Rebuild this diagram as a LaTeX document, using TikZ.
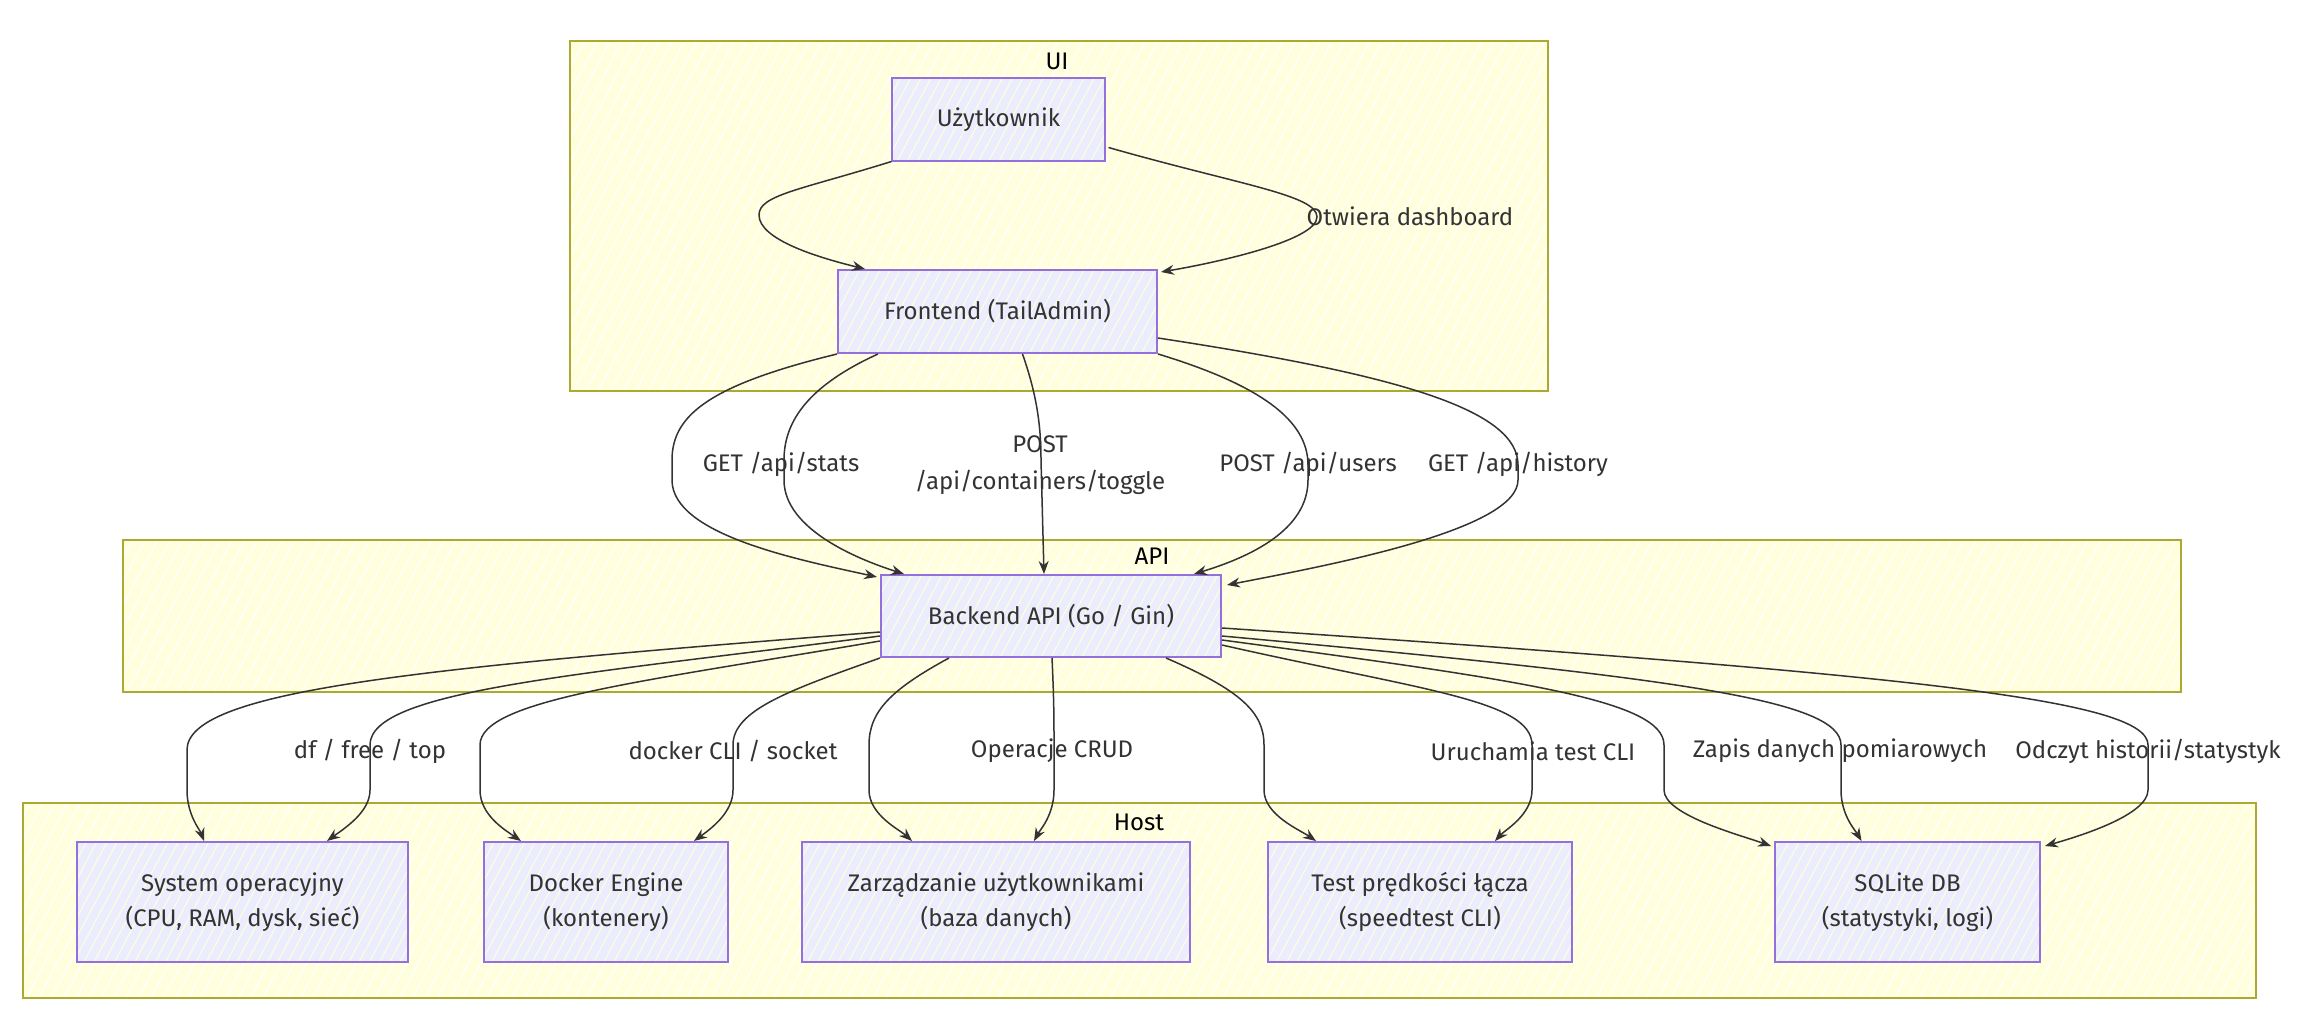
\documentclass[tikz,border=0pt]{standalone}
\usepackage{fontspec}
\setmainfont{Fira Sans}
\usetikzlibrary{arrows.meta,patterns.meta,calc}
\definecolor{clfill}{HTML}{FFFFDE}
\definecolor{clline}{HTML}{AAAA33}
\definecolor{ndfill}{HTML}{ECECFF}
\definecolor{ndline}{HTML}{9370DB}
\definecolor{txt}{HTML}{333333}
\begin{document}
\begin{tikzpicture}[x=1pt,y=-1pt,
  cluster/.style={draw=clline, line width=2pt, preaction={fill=clfill},
    pattern={Lines[angle=62,distance=11pt,line width=1.2pt]}, pattern color=white},
  cltitle/.style={text=black, font=\fontsize{24}{28}\selectfont, inner sep=0pt},
  box/.style={draw=ndline, line width=2pt, preaction={fill=ndfill},
    pattern={Lines[angle=62,distance=9pt,line width=1pt]}, pattern color=white!85!yellow,
    text=txt, font=\fontsize{24}{35}\selectfont, align=center, inner sep=0pt},
  elabel/.style={text=txt, font=\fontsize{24}{37}\selectfont, align=center, inner sep=0pt},
  edge/.style={draw=txt, line width=1.5pt, -{Stealth[length=13pt,width=10pt]}}]
\useasboundingbox (0,0) rectangle (2302,1024);
\fill[white] (0,0) rectangle (2302,1024);
% clusters
\path[cluster] (570,41) rectangle (1548,391);
\path[cluster] (123,540) rectangle (2181,692);
\path[cluster] (23,803) rectangle (2256,998);
\node[cltitle] (tui) at (1057,61) {UI};
\node[cltitle] (tapi) at (1152,556) {API};
\node[cltitle] (thost) at (1139,822) {Host};
% nodes
\node[box, minimum width=213pt, minimum height=83pt] (user) at (998.5,119.5) {Użytkownik};
\node[box, minimum width=319pt, minimum height=83pt] (fe) at (997.5,311.5) {Frontend (TailAdmin)};
\node[box, minimum width=340pt, minimum height=82pt] (be) at (1051,616) {Backend API (Go / Gin)};
\node[box, minimum width=331pt, minimum height=120pt] (sys) at (242.5,902) {System operacyjny\\(CPU, RAM, dysk, sieć)};
\node[box, minimum width=244pt, minimum height=120pt] (dock) at (606,902) {Docker Engine\\(kontenery)};
\node[box, minimum width=388pt, minimum height=120pt] (usrm) at (996,902) {Zarządzanie użytkownikami\\(baza danych)};
\node[box, minimum width=304pt, minimum height=120pt] (test) at (1420,902) {Test prędkości łącza\\(speedtest CLI)};
\node[box, minimum width=265pt, minimum height=120pt] (db) at (1907.5,902) {SQLite DB\\(statystyki, logi)};
% user -> frontend
\draw[edge] (user.south west) .. controls (800,190) and (759,195) .. (759,215) .. controls (759,240) and (820,258) .. ($(fe.north west)+(28,0)$);
\draw[edge] ($(user.south east)+(3,-14)$) .. controls (1240,185) and (1317,195) .. (1317,217) .. controls (1317,240) and (1220,262) .. ($(fe.north east)+(3,3)$);
\node[elabel] (l0) at (1410,216) {Otwiera dashboard};
% frontend -> backend
\draw[edge] (fe.south west) .. controls (710,385) and (672,415) .. (672,460) -- (672,480) .. controls (672,535) and (800,560) .. ($(be.north west)+(-3,3)$);
\draw[edge] ($(fe.south west)+(41,0)$) .. controls (810,385) and (784,420) .. (784,460) -- (784,480) .. controls (784,530) and (860,560) .. ($(be.north west)+(24,0)$);
\draw[edge] ($(fe.south)+(25,0)$) .. controls (1035,390) and (1041,420) .. (1041,460) -- ($(be.north)+(-7,0)$);
\draw[edge] (fe.south east) .. controls (1260,385) and (1308,420) .. (1308,465) -- (1308,480) .. controls (1308,530) and (1250,557) .. ($(be.north east)+(-28,0)$);
\draw[edge] ($(fe.south east)+(0,-16)$) .. controls (1400,375) and (1518,410) .. (1518,465) -- (1518,480) .. controls (1518,530) and (1330,565) .. ($(be.north east)+(5,11)$);
\node[elabel] (l1) at (781,464) {GET /api/stats};
\node[elabel] (l2) at (1040,465) {POST\\/api/containers/toggle};
\node[elabel] (l3) at (1308,464) {POST /api/users};
\node[elabel] (l4) at (1518,464) {GET /api/history};
% backend -> host
\draw[edge] ($(be.west)+(0,16)$) .. controls (420,668) and (187,690) .. (187,750) -- (187,790) .. controls (187,815) and (200,830) .. ($(sys.north west)+(128,0)$);
\draw[edge] ($(be.west)+(0,20)$) .. controls (580,675) and (370,690) .. (370,745) -- (370,790) .. controls (370,812) and (345,828) .. ($(sys.north east)+(-82,0)$);
\draw[edge] ($(be.west)+(0,25)$) .. controls (640,682) and (480,700) .. (480,745) -- (480,790) .. controls (480,815) and (505,830) .. ($(dock.north west)+(38,0)$);
\draw[edge] (be.south west) .. controls (790,690) and (733,710) .. (733,745) -- (733,790) .. controls (733,812) and (712,828) .. ($(dock.north east)+(-35,0)$);
\draw[edge] ($(be.south west)+(69,0)$) .. controls (890,690) and (869,712) .. (869,745) -- (869,790) .. controls (869,815) and (900,830) .. ($(usrm.north west)+(111,0)$);
\draw[edge] ($(be.south)+(1,0)$) .. controls (1054,700) and (1054,720) .. (1054,745) -- (1054,790) .. controls (1054,815) and (1040,830) .. ($(usrm.north)+(38,0)$);
\draw[edge] ($(be.south east)+(-56,0)$) .. controls (1240,690) and (1264,712) .. (1264,745) -- (1264,790) .. controls (1264,815) and (1300,830) .. ($(test.north west)+(49,0)$);
\draw[edge] ($(be.east)+(0,29)$) .. controls (1420,690) and (1532,700) .. (1532,745) -- (1532,790) .. controls (1532,815) and (1505,830) .. ($(test.north east)+(-78,0)$);
\draw[edge] ($(be.east)+(0,24)$) .. controls (1520,680) and (1664,700) .. (1664,745) -- (1664,790) .. controls (1664,815) and (1740,835) .. ($(db.north west)+(-3,5)$);
\draw[edge] ($(be.east)+(0,20)$) .. controls (1680,678) and (1841,700) .. (1841,745) -- (1841,790) .. controls (1841,815) and (1855,830) .. ($(db.north)+(-46,0)$);
\draw[edge] ($(be.east)+(0,12)$) .. controls (1920,675) and (2148,700) .. (2148,745) -- (2148,790) .. controls (2148,815) and (2080,836) .. ($(db.north east)+(4,5)$);
\node[elabel] (l5) at (370,751) {df / free / top};
\node[elabel] (l6) at (733,751) {docker CLI / socket};
\node[elabel] (l7) at (1052,751) {Operacje CRUD};
\node[elabel] (l8) at (1533,751) {Uruchamia test CLI};
\node[elabel] (l9) at (1840,751) {Zapis danych pomiarowych};
\node[elabel] (l10) at (2148,751) {Odczyt historii/statystyk};
\end{tikzpicture}
\end{document}
